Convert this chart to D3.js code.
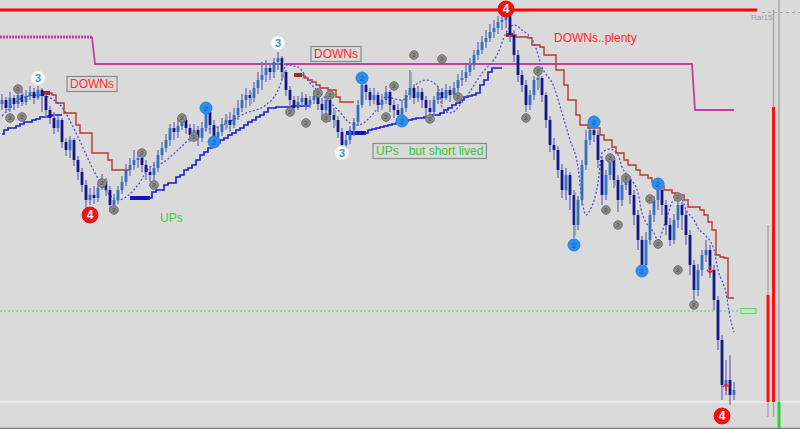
<!DOCTYPE html>
<html>
<head>
<meta charset="utf-8">
<script src="https://cdn.jsdelivr.net/npm/d3@7"></script>
<style>
  body { margin: 0; background: #dadada; }
  svg { display: block; font-family: "Liberation Sans", Arial, sans-serif; }
</style>
</head>
<body>
<div id="chart"></div>
<script>
// Dimensiones de la ventana
const width = 800;
const height = 429;

// ---- Velas (precio) ----
const firstOpen = 1396;
const closes = [
  1400,1392,1402,1396,1405,1398,1404,1408,1402,1410,
  1404,1390,1382,1372,1380,1358,1350,1360,1340,1328,
  1315,1300,1305,1302,1312,1318,1310,1295,1300,1310,
  1318,1330,1335,1340,1342,1335,1328,1325,1332,1345,
  1352,1360,1372,1368,1374,1380,1372,1365,1370,1362,
  1372,1388,1375,1362,1368,1376,1380,1375,1385,1392,
  1400,1405,1402,1412,1420,1425,1432,1428,1438,1442,
  1428,1410,1400,1392,1398,1402,1395,1400,1404,1396,
  1390,1400,1385,1380,1368,1355,1360,1370,1378,1395,
  1415,1408,1400,1405,1395,1400,1408,1395,1390,1385,
  1392,1405,1412,1402,1408,1400,1392,1388,1400,1408,
  1402,1410,1405,1412,1420,1422,1428,1435,1445,1450,
  1458,1462,1468,1472,1478,1480,1485,1465,1445,1425,
  1415,1395,1405,1420,1422,1405,1380,1355,1350,1330,
  1310,1325,1305,1275,1300,1335,1360,1370,1365,1340,
  1305,1325,1340,1320,1300,1315,1320,1305,1285,1260,
  1235,1260,1285,1300,1310,1295,1275,1260,1280,1295,
  1285,1265,1235,1210,1230,1245,1250,1230,1200,1160,
  1115,1120,1105,1110
];
const highs = [
  1406,1403,1408,1405,1410,1409,1410,1414,1412,1414,
  1412,1406,1394,1388,1384,1382,1362,1364,1362,1344,
  1332,1320,1312,1314,1316,1326,1322,1314,1306,1314,
  1324,1336,1342,1350,1348,1346,1340,1334,1338,1350,
  1358,1366,1376,1378,1382,1384,1382,1376,1376,1374,
  1378,1392,1390,1380,1374,1382,1386,1388,1392,1400,
  1406,1412,1410,1418,1428,1438,1440,1436,1442,1448,
  1444,1430,1414,1404,1404,1408,1406,1404,1410,1408,
  1402,1404,1402,1392,1384,1372,1366,1374,1382,1400,
  1422,1418,1412,1412,1408,1406,1414,1410,1400,1396,
  1400,1410,1430,1416,1414,1412,1404,1400,1404,1414,
  1412,1416,1414,1418,1426,1430,1436,1442,1450,1458,
  1464,1470,1476,1480,1484,1486,1488,1486,1470,1450,
  1430,1420,1410,1424,1428,1424,1408,1384,1362,1354,
  1336,1332,1328,1310,1304,1340,1370,1376,1374,1370,
  1344,1330,1346,1344,1325,1320,1325,1324,1310,1290,
  1264,1268,1290,1304,1314,1312,1300,1282,1286,1300,
  1298,1290,1270,1240,1236,1250,1260,1255,1235,1204,
  1165,1140,1145,1118
];
const lows = [
  1390,1387,1388,1390,1392,1394,1395,1400,1396,1400,
  1388,1382,1376,1366,1368,1352,1344,1342,1334,1320,
  1308,1292,1295,1296,1298,1310,1304,1288,1290,1296,
  1306,1314,1324,1330,1332,1328,1320,1318,1314,1328,
  1340,1348,1354,1360,1362,1370,1366,1358,1360,1354,
  1358,1368,1366,1356,1358,1364,1370,1368,1372,1380,
  1388,1392,1394,1398,1406,1410,1418,1420,1422,1430,
  1420,1404,1390,1388,1390,1394,1390,1392,1396,1390,
  1380,1386,1378,1372,1362,1350,1352,1356,1364,1374,
  1392,1400,1394,1396,1388,1390,1396,1388,1382,1380,
  1382,1388,1400,1396,1398,1392,1384,1382,1384,1396,
  1396,1400,1398,1402,1408,1414,1418,1424,1430,1440,
  1446,1452,1458,1462,1466,1470,1472,1458,1438,1418,
  1408,1388,1390,1400,1410,1398,1372,1348,1340,1322,
  1302,1300,1290,1262,1270,1295,1330,1355,1358,1332,
  1295,1300,1320,1312,1288,1294,1310,1296,1275,1250,
  1228,1232,1255,1278,1290,1285,1265,1254,1256,1272,
  1270,1255,1225,1200,1204,1224,1238,1222,1190,1150,
  1100,1105,1095,1100
];
// velas con mecha verde
const greenBars = [5, 26, 56, 62, 70, 83, 102, 134, 143, 153];

// ---- Soportes (azul) y resistencias (rojo), un valor por vela ----
const supportA = { start: 0, values: [1366,1370,1372,1372,1374,1376,1378,1378,1380,1381,1383,1383,1384,1385,1385,1385] };
const supportB = { start: 32, values: [1302,1302,1302,1302,1302,1302,1308,1310,1310,1315,1317,1317,1323,1325,1330,1332,1335,1340,1345,1348,1352,1355,1357,1360,1362,1365,1367,1370,1372,1375,1378,1380,1383,1385,1388,1392,1392,1393,1393,1393,1393,1394,1394,1394,1394,1394] };
const supportC = { start: 86, values: [1367,1367,1367,1367,1367,1367,1370,1371,1372,1373,1374,1375,1376,1377,1378,1379,1380,1381,1382,1382,1383,1384,1385,1385,1387,1390,1392,1395,1397,1400,1403,1404,1405,1407,1415,1420,1428,1432,1432,1432] };
const resistA = { start: 10, values: [1407,1407,1407,1405,1397,1397,1387,1387,1387,1375,1367,1367,1367,1347,1347,1347,1347,1340,1330,1330,1330,1330,1330] };
const resistB = { start: 73, values: [1425,1425,1425,1422,1420,1418,1415,1412,1412,1410,1410,1403,1398,1398,1398,1398] };
const resistC = { start: 126, values: [1465,1465,1465,1463,1463,1463,1462,1455,1455,1453,1445,1445,1445,1430,1430,1415,1400,1400,1385,1375,1375,1372,1372,1372,1365,1360,1360,1353,1347,1347,1340,1335,1335,1330,1325,1325,1322,1318,1318,1314,1310,1310,1307,1305,1305,1300,1293,1293,1293,1290,1285,1278,1270,1245,1243,1242,1202,1202] };

// ---- Media móvil punteada (lecturas puntuales) ----
const maIdx = [0,2,5,9,14,19,22,25,29,31,34,37,40,44,49,54,61,66,70,71,74,77,80,84,87,89,93,96,100,104,106,109,110,112,116,120,124,126,128,130,133,135,138,140,142,144,145,146,147,149,150,152,154,155,157,159,160,163,164,166,168,170,171,173,174,176,178,179,181,182,183];
const maVal = [1384,1392,1402,1405,1397,1363,1337,1315,1300,1303,1315,1333,1337,1350,1368,1373,1387,1395,1420,1435,1433,1417,1405,1390,1377,1375,1387,1403,1400,1417,1420,1413,1393,1387,1403,1427,1447,1467,1475,1470,1457,1433,1413,1387,1360,1333,1300,1285,1290,1317,1347,1351,1345,1333,1322,1307,1287,1267,1260,1280,1300,1300,1290,1280,1272,1264,1250,1230,1207,1183,1168];

// ---- Nivel magenta ----
const magentaIdx = [0, 23, 173];
const magentaVal = [1463, 1436, 1390];

// ---- Niveles horizontales ----
const topLevel = 1490;
const greenLevel = 1189;
const whiteLevel = 1098;

// ---- Marcadores de ondas ----
const greyIdx = [2,5,4,25,28,35,38,45,48,72,76,79,81,82,96,98,103,107,110,114,131,134,151,152,154,156,162,164,169,169,173];
const greyVal = [1382,1383,1411,1317,1290,1347,1315,1382,1363,1388,1377,1407,1382,1405,1383,1414,1445,1381,1441,1403,1382,1429,1290,1342,1275,1322,1301,1256,1303,1230,1195];
const blueIdx = [51,53,90,100,143,148,160,164];
const blueVal = [1392,1358,1422,1379,1255,1378,1229,1316];
const threeIdx = [9,69,85];
const threeVal = [1422,1457,1347];
const fourIdx = [22,126,180];
const fourVal = [1285,1491,1084];

// flechas rojas
const arrowIdx = [177, 181];
const arrowVal = [1230, 1113];
const arrowDir = ["down", "up"];

// ---- Notas de texto ----
const noteText = ["DOWNs", "DOWNs", "DOWNs..plenty", "UPs", "UPs   but short lived"];
const noteIdx = [17, 78, 138, 39.5, 93.5];
const noteVal = [1412, 1442, 1458, 1278, 1345];
const noteColor = ["#ff2a2a", "#ff2a2a", "#ff2a2a", "#44cc44", "#33cc33"];
const noteBox = [true, true, false, false, true];

// ---- Indicador lateral derecho ----
const gaugeNames = ["a", "b", "c"];
const gaugeTop = [1275, 1490, 1500];
const gaugeBottom = [1083, 1083, 1071];
const gaugeBarTop = [1205, 1393, 1098];
const gaugeBarBottom = [1098, 1098, 1071];
const gaugeBarColor = ["#ff1010", "#ff1010", "#33cc33"];

// Escalas
const x = d3.scaleLinear().domain([0, closes.length - 1]).range([2, 734]);
const y = d3.scaleLinear().domain([1071, 1500]).range([429, 0]);
const xg = d3.scalePoint().domain(gaugeNames).range([768, 779]);

const svg = d3.select("#chart").append("svg")
  .attr("width", width)
  .attr("height", height);

svg.append("rect").attr("width", width).attr("height", height).attr("fill", "#dadada");

// Niveles horizontales
svg.append("line")
  .attr("x1", 0).attr("x2", width)
  .attr("y1", y(whiteLevel)).attr("y2", y(whiteLevel))
  .attr("stroke", "#f6f6f6").attr("stroke-width", 1);

svg.append("line")
  .attr("x1", 0).attr("x2", 740)
  .attr("y1", y(greenLevel)).attr("y2", y(greenLevel))
  .attr("stroke", "#44d844").attr("stroke-width", 1)
  .attr("stroke-dasharray", "2,2");
svg.append("rect")
  .attr("x", 741).attr("y", y(greenLevel) - 2.5)
  .attr("width", 15).attr("height", 5)
  .attr("fill", "#b8ecb8").attr("stroke", "#44d844").attr("stroke-width", 0.8);

svg.append("line")
  .attr("x1", 0).attr("x2", 757)
  .attr("y1", y(topLevel)).attr("y2", y(topLevel))
  .attr("stroke", "#ff0000").attr("stroke-width", 3);

svg.append("line")
  .attr("x1", 762).attr("x2", width)
  .attr("y1", 12.5).attr("y2", 12.5)
  .attr("stroke", "#a8a8a8").attr("stroke-width", 1)
  .attr("stroke-dasharray", "3,3");

svg.append("text")
  .attr("x", 751).attr("y", 20)
  .attr("font-size", 8).attr("fill", "#a0a0a0")
  .text("Rat15");

// Línea magenta
const magentaPts = [];
magentaIdx.forEach((i, k) => {
  const end = k < magentaIdx.length - 1 ? magentaIdx[k + 1] - 0.5 : closes.length - 1;
  magentaPts.push([[x(i - 0.5), y(magentaVal[k])], [x(end), y(magentaVal[k])]]);
});
svg.append("line")
  .attr("x1", 0).attr("x2", magentaPts[0][1][0])
  .attr("y1", magentaPts[0][0][1]).attr("y2", magentaPts[0][0][1])
  .attr("stroke", "#c4409a").attr("stroke-width", 3)
  .attr("stroke-dasharray", "2,1");
const magentaPath = [magentaPts[0][1]];
for (let k = 1; k < magentaPts.length; k++) {
  magentaPath.push([magentaPts[k][0][0] + 3, magentaPts[k][0][1]], magentaPts[k][1]);
}
svg.append("path")
  .attr("d", d3.line()(magentaPath))
  .attr("fill", "none").attr("stroke", "#c4409a").attr("stroke-width", 1.8);

// Líneas escalonadas
const stepLine = d3.line().x(d => x(d.i)).y(d => y(d.v)).curve(d3.curveStep);
const toPts = s => s.values.map((v, k) => ({ i: s.start + k, v }));

const dibujarEscalon = (serie, color, ancho, nGrueso, colorGrueso) => {
  const pts = toPts(serie);
  svg.append("path")
    .attr("d", stepLine(pts))
    .attr("fill", "none").attr("stroke", color).attr("stroke-width", ancho);
  if (nGrueso > 0) {
    svg.append("path")
      .attr("d", stepLine(pts.slice(0, nGrueso)))
      .attr("fill", "none").attr("stroke", colorGrueso).attr("stroke-width", 4);
  }
};

dibujarEscalon(supportA, "#1a1ad8", 1.6, 0);
dibujarEscalon(supportB, "#1a1ad8", 1.6, 6, "#1212c0");
dibujarEscalon(supportC, "#1a1ad8", 1.6, 6, "#1212c0");
dibujarEscalon(resistA, "#b8392e", 1.4, 3, "#a52a22");
dibujarEscalon(resistB, "#b8392e", 1.4, 3, "#a52a22");
dibujarEscalon(resistC, "#b8392e", 1.4, 3, "#a52a22");

// Media móvil punteada
svg.append("path")
  .datum(maIdx.map((i, k) => [x(i), y(maVal[k])]))
  .attr("d", d3.line().curve(d3.curveMonotoneX))
  .attr("fill", "none").attr("stroke", "#4f4fdc")
  .attr("stroke-width", 1.3).attr("stroke-dasharray", "2,2");

// Velas
const opens = closes.map((c, i) => i === 0 ? firstOpen : closes[i - 1]);
const bars = closes.map((c, i) => ({ i, o: opens[i], h: highs[i], l: lows[i], c }));

const velas = svg.append("g");
velas.selectAll("line")
  .data(bars)
  .join("line")
  .attr("x1", d => x(d.i)).attr("x2", d => x(d.i))
  .attr("y1", d => y(d.h)).attr("y2", d => y(d.l))
  .attr("stroke", "#7474c0").attr("stroke-width", 1.4);
velas.selectAll("rect")
  .data(bars)
  .join("rect")
  .attr("x", d => x(d.i) - 1.4).attr("width", 2.8)
  .attr("y", d => y(Math.max(d.o, d.c)))
  .attr("height", d => Math.max(1.5, Math.abs(y(d.o) - y(d.c))))
  .attr("fill", d => d.c > d.o ? "#2f70c4" : "#14148a");
velas.selectAll("line.verde")
  .data(bars.filter(d => greenBars.includes(d.i)))
  .join("line")
  .attr("class", "verde")
  .attr("x1", d => x(d.i) + 1.5).attr("x2", d => x(d.i) + 1.5)
  .attr("y1", d => y(d.h) + 2).attr("y2", d => y(d.l) - 2)
  .attr("stroke", "#66e05a").attr("stroke-width", 1.2);

// Flechas rojas
arrowIdx.forEach((i, k) => {
  const cx = x(i), cy = y(arrowVal[k]);
  const s = arrowDir[k] === "down" ? 1 : -1;
  svg.append("path")
    .attr("d", `M${cx},${cy - 4 * s}L${cx},${cy + 3 * s}M${cx - 3},${cy}L${cx},${cy + 3 * s}L${cx + 3},${cy}`)
    .attr("fill", "none").attr("stroke", "#ee2222").attr("stroke-width", 1.4);
});

// Marcadores
const marcadores = svg.append("g").attr("text-anchor", "middle");

const dibujarMarcas = (idx, val, r, relleno, borde, digito, colorDigito, tam) => {
  idx.forEach((i, k) => {
    const g = marcadores.append("g").attr("transform", `translate(${x(i)},${y(val[k])})`);
    g.append("circle").attr("r", r).attr("fill", relleno).attr("stroke", borde).attr("stroke-width", 1);
    g.append("text")
      .attr("y", tam * 0.36)
      .attr("font-size", tam).attr("font-weight", "bold")
      .attr("fill", colorDigito)
      .text(digito);
  });
};

dibujarMarcas(greyIdx, greyVal, 4.3, "#8c8c8c", "#707070", "2", "#5a5a5a", 6);
dibujarMarcas(blueIdx, blueVal, 6, "#2d8ff0", "#2a80d8", "2", "#1868c0", 8);
dibujarMarcas(threeIdx, threeVal, 7, "#ffffff", "#e8e8e8", "3", "#3a8fe0", 11);
dibujarMarcas(fourIdx, fourVal, 8, "#ee1111", "#ee1111", "4", "#ffffff", 12);

// Notas
noteText.forEach((t, k) => {
  const tx = svg.append("text")
    .attr("x", x(noteIdx[k])).attr("y", y(noteVal[k]))
    .attr("font-size", 12)
    .attr("fill", noteColor[k])
    .attr("xml:space", "preserve")
    .style("white-space", "pre")
    .text(t);
  if (noteBox[k]) {
    const b = tx.node().getBBox();
    svg.insert("rect", "text")
      .attr("x", b.x - 3).attr("y", b.y - 0.5)
      .attr("width", b.width + 6).attr("height", b.height + 1)
      .attr("fill", "none").attr("stroke", "#8a8a8a").attr("stroke-width", 1.2);
  }
});

// Indicador lateral
gaugeNames.forEach((n, k) => {
  svg.append("line")
    .attr("x1", xg(n)).attr("x2", xg(n))
    .attr("y1", y(gaugeTop[k])).attr("y2", y(gaugeBottom[k]))
    .attr("stroke", "#a8a8a8").attr("stroke-width", 1.5);
  svg.append("rect")
    .attr("x", xg(n) - 1.5).attr("width", 3)
    .attr("y", y(gaugeBarTop[k]))
    .attr("height", y(gaugeBarBottom[k]) - y(gaugeBarTop[k]))
    .attr("fill", gaugeBarColor[k]);
});

// Borde inferior
svg.append("line")
  .attr("x1", 0).attr("x2", width)
  .attr("y1", height - 0.5).attr("y2", height - 0.5)
  .attr("stroke", "#808080").attr("stroke-width", 1.5);
</script>
</body>
</html>
